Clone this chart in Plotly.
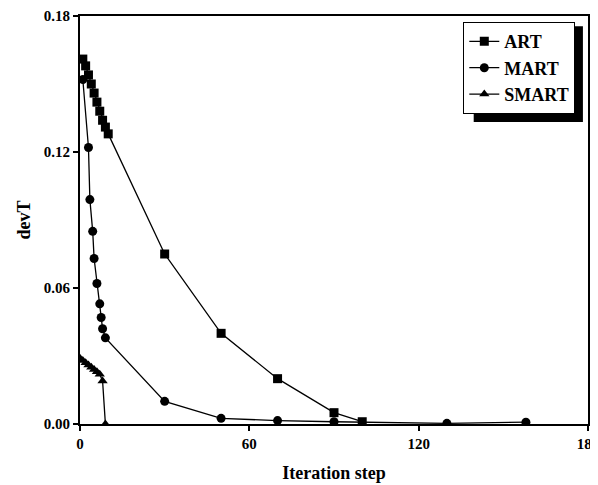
import plotly.graph_objects as go

art_x = [1,2,3,4,5,6,7,8,9,10,30,50,70,90,100]
art_y = [0.161,0.158,0.154,0.150,0.146,0.142,0.138,0.134,0.131,0.128,0.075,0.040,0.020,0.005,0.001]
mart_x = [1,3,3.5,4.5,5,6,7,7.5,8,9,30,50,70,90,130,158]
mart_y = [0.152,0.122,0.099,0.085,0.073,0.062,0.053,0.047,0.042,0.038,0.010,0.0025,0.0015,0.001,0.0003,0.0008]
smart_x = [0,1,2,3,4,5,6,7,8,9]
smart_y = [0.029,0.028,0.027,0.026,0.025,0.024,0.023,0.022,0.019,0.0]
x_ticks = [0,60,120,180]
y_ticks = [0.00,0.06,0.12,0.18]

fig = go.Figure()
for name, xs, ys, sym in [("<b>ART</b>", art_x, art_y, "square"), ("<b>MART</b>", mart_x, mart_y, "circle"), ("<b>SMART</b>", smart_x, smart_y, "triangle-up")]:
    fig.add_trace(go.Scatter(x=xs, y=ys, name=name, mode="lines+markers",
                             line=dict(color="black", width=1.3),
                             marker=dict(symbol=sym, size=9, color="black")))
font = dict(family="Liberation Serif", color="black")
axis = dict(showline=True, linecolor="black", linewidth=2, mirror=True, ticks="outside",
            tickcolor="black", tickwidth=2, ticklen=5, showgrid=False, zeroline=False, automargin=False,
            tickfont=dict(size=15, family="Liberation Serif", color="black"))
fig.update_layout(
    width=598, height=485, plot_bgcolor="white", paper_bgcolor="white",
    margin=dict(l=72, r=18, t=8, b=69, autoexpand=False), font=font,
    xaxis=dict(range=[0,180], tickvals=x_ticks, ticktext=[f"<b>{v}</b>" for v in x_ticks],
               title=dict(text="<b>Iteration step</b>", font=dict(size=18)), **axis),
    yaxis=dict(range=[0,0.18], tickvals=y_ticks, ticktext=[f"<b>{v:.2f}</b>" for v in y_ticks],
               title=dict(text="<b>devT</b>", font=dict(size=18), standoff=8), **axis),
    legend=dict(x=0.975, y=0.985, xanchor="right", yanchor="top", bordercolor="black", borderwidth=1,
                bgcolor="white", font=dict(size=18, family="Liberation Serif", color="black"), tracegroupgap=0),
)
fig.add_shape(type="rect", xref="paper", yref="paper", x0=0.775, x1=0.99, y0=0.74, y1=0.975,
              fillcolor="black", line=dict(width=0), layer="above")
fig.write_html("out.html")
